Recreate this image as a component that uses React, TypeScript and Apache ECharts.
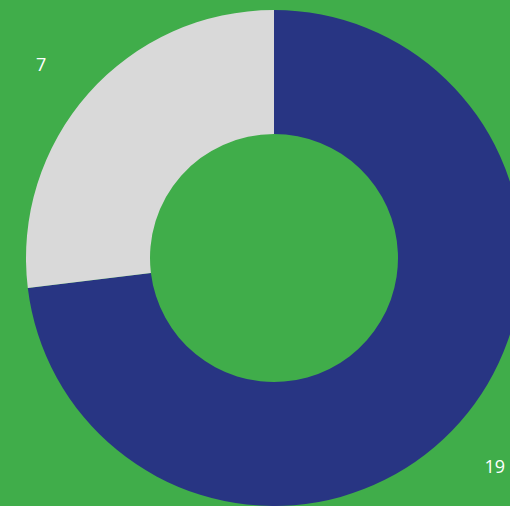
import React, { useEffect, useRef } from "react";
import * as echarts from "echarts";

const categories = ["A", "B"];
const values = [19, 7];
const colors = ["#283583", "#D9D9D9"];

export default function App() {
  const ref = useRef<HTMLDivElement>(null);
  useEffect(() => {
    if (!ref.current) return;
    const chart = echarts.init(ref.current, null, { renderer: "svg" });
    const data = categories.map((name, i) => ({
      name,
      value: values[i],
      itemStyle: { color: colors[i] },
    }));
    chart.setOption({
      animation: false,
      backgroundColor: "#40AD4A",
      series: [
        {
          type: "pie",
          center: [274, 258],
          radius: [124, 248],
          startAngle: 90,
          clockwise: true,
          silent: true,
          label: { show: false },
          labelLine: { show: false },
          itemStyle: { borderWidth: 0 },
          data,
        },
        {
          type: "pie",
          center: [274, 258],
          radius: [285, 315],
          startAngle: 90,
          clockwise: true,
          silent: true,
          itemStyle: { color: "transparent", borderWidth: 0 },
          label: {
            show: true,
            position: "inside",
            formatter: "{c}",
            color: "#FFFFFF",
            fontSize: 18,
            fontFamily: "Open Sans",
            offset: [-6, 7],
          },
          labelLine: { show: false },
          data: categories.map((name, i) => ({ name, value: values[i] })),
        },
      ],
    });
    return () => chart.dispose();
  }, []);
  return (
    <div
      ref={ref}
      style={{ position: "absolute", left: 0, top: 0, width: 510, height: 506 }}
    />
  );
}
